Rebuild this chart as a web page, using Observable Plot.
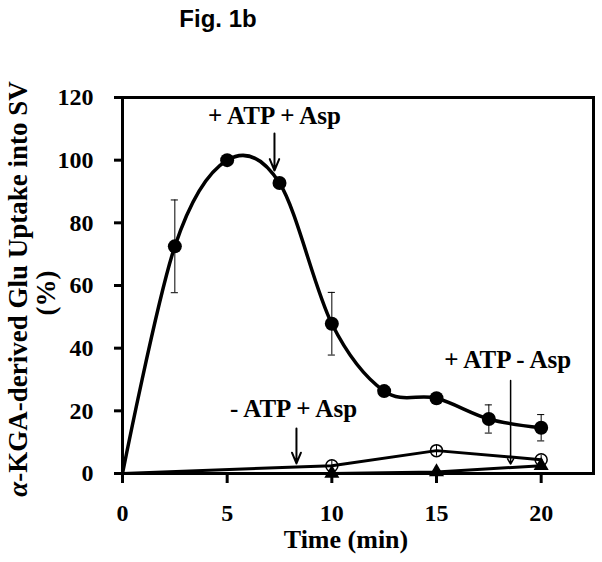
<!DOCTYPE html>
<html><head><meta charset="utf-8">
<script src="https://cdn.jsdelivr.net/npm/d3@7"></script>
<script src="https://cdn.jsdelivr.net/npm/@observablehq/plot@0.6"></script>
<style>
body{margin:0;background:#fff}
svg text:not(.sans){font-family:'Liberation Serif', serif !important;}
svg g[aria-label*="axis"] text, svg g[aria-label*="axis"]{font-size:24px !important; font-weight:bold !important;}
svg g[aria-label*="axis"] path, svg g[aria-label*="axis"] line{stroke-width:3px !important;}
</style>
</head><body><div id="chart"></div>
<script>
// ---- data ----
const times1 = [0, 2.5, 5, 7.5, 10, 12.5, 15, 17.5, 20];
const atpAsp = [0, 72.5, 100, 92.7, 47.8, 26.3, 24.0, 17.4, 14.6];
const atpAspErr = [0, 14.8, 1, 1, 10, 1, 1.2, 4.5, 4.2];
const times2 = [0, 10, 15, 20];
const noAtpAsp = [0, 2.5, 7.3, 4.4];
const noAtpAspErr = [0, 1.8, 1.8, 1.5];
const times3 = [0, 10, 15, 20];
const atpNoAsp = [0, 0, 0.5, 2.5];
const xTicks = [0, 5, 10, 15, 20];
const yTicks = [0, 20, 40, 60, 80, 100, 120];
const annLabels = ["+ ATP + Asp", "- ATP + Asp", "+ ATP - Asp"];
const annTextX = [7.26, 8.17, 18.4];
const annTextY = [111.5, 17.9, 33.8];
const arrowX = [7.26, 8.31, 18.54];
const arrowY1 = [108.5, 14.4, 29.7];
const arrowY2 = [96.7, 3.2, 3.0];
const title = "Fig. 1b";
const xLabel = "Time (min)";
const yLabel1 = "-KGA-derived Glu Uptake into SV";
const yLabel2 = "(%)";

// ---- tables ----
const s1 = times1.map((t, i) => ({t, v: atpAsp[i], e: atpAspErr[i]}));
const s2 = times2.map((t, i) => ({t, v: noAtpAsp[i], e: noAtpAspErr[i]}));
const s3 = times3.map((t, i) => ({t, v: atpNoAsp[i]}));
const ann = annLabels.map((label, i) => ({label, x: annTextX[i], y: annTextY[i]}));
const arrows = arrowX.map((x, i) => ({x, y1: arrowY1[i], y2: arrowY2[i], i}));
const errs = [...s1.filter(d => d.t > 0), ...s2.filter(d => d.t > 0)];
const capW = 0.17;

const plot = Plot.plot({
  width: 602, height: 562,
  marginLeft: 122, marginRight: 9, marginTop: 97, marginBottom: 89,
  style: {fontFamily: "'Liberation Serif', serif", fontSize: "24px", fontWeight: "bold", color: "black", background: "white", overflow: "visible"},
  x: {domain: [0, 22.5], ticks: xTicks, tickSize: 10, tickPadding: 20, label: null, tickFormat: d => d},
  y: {domain: [0, 120], ticks: yTicks, tickSize: 8, tickPadding: 21, label: null, tickFormat: d => d},
  marks: [
    Plot.ruleX(errs, {x: "t", y1: d => d.v - d.e, y2: d => d.v + d.e, stroke: "black", strokeWidth: 1}),
    Plot.ruleY(s1.filter(d => d.t > 0), {y: d => d.v + d.e, x1: d => d.t - capW, x2: d => d.t + capW, stroke: "black", strokeWidth: 1}),
    Plot.ruleY(s1.filter(d => d.t > 0), {y: d => d.v - d.e, x1: d => d.t - capW, x2: d => d.t + capW, stroke: "black", strokeWidth: 1}),
    Plot.line(s3, {x: "t", y: "v", stroke: "black", strokeWidth: 3}),
    Plot.line(s2, {x: "t", y: "v", stroke: "black", strokeWidth: 3}),
    Plot.line(s1, {x: "t", y: "v", curve: "cardinal", stroke: "black", strokeWidth: 3.5}),
    Plot.frame({stroke: "black", strokeWidth: 3}),
    Plot.dot(s1.filter(d => d.t > 0), {x: "t", y: "v", r: 7, fill: "black"}),
    Plot.dot(s2.filter(d => d.t > 0), {x: "t", y: "v", r: 6, stroke: "black", strokeWidth: 1.5, fill: "none"}),
    Plot.dot(s3.filter(d => d.t > 0), {x: "t", y: "v", symbol: "triangle", r: 5.6, fill: "black"}),
    Plot.arrow(arrows.filter(d => d.i < 2), {x: "x", y1: "y1", y2: "y2", stroke: "black", strokeWidth: 2, headLength: 11, headAngle: 45}),
    Plot.arrow(arrows.filter(d => d.i === 2), {x: "x", y1: "y1", y2: "y2", stroke: "black", strokeWidth: 1.5, headLength: 6, headAngle: 60}),
    Plot.text(ann, {x: "x", y: "y", text: "label", fontSize: 25, fontWeight: "bold", textAnchor: "middle", lineAnchor: "bottom", fill: "black"})
  ]
});

const svg = d3.select(plot);
svg.append("text").attr("class", "sans").attr("x", 218).attr("y", 27).attr("text-anchor", "middle")
  .style("font-family", "'Liberation Sans', Arial, sans-serif").attr("font-size", 24).attr("font-weight", "bold")
  .attr("fill", "black").text(title);
svg.append("text").attr("x", 346).attr("y", 548).attr("text-anchor", "middle")
  .attr("font-size", 26).attr("font-weight", "bold").attr("fill", "black").text(xLabel);
const t1 = svg.append("text").attr("transform", "translate(27,289) rotate(-90)").attr("text-anchor", "middle")
  .attr("font-size", 27).attr("font-weight", "bold").attr("fill", "black");
t1.append("tspan").attr("font-style", "italic").text("α");
t1.append("tspan").text(yLabel1);
svg.append("text").attr("transform", "translate(55,293) rotate(-90)").attr("text-anchor", "middle")
  .attr("font-size", 27).attr("font-weight", "bold").attr("fill", "black").text(yLabel2);

document.getElementById("chart").appendChild(plot);
</script>
</body></html>
